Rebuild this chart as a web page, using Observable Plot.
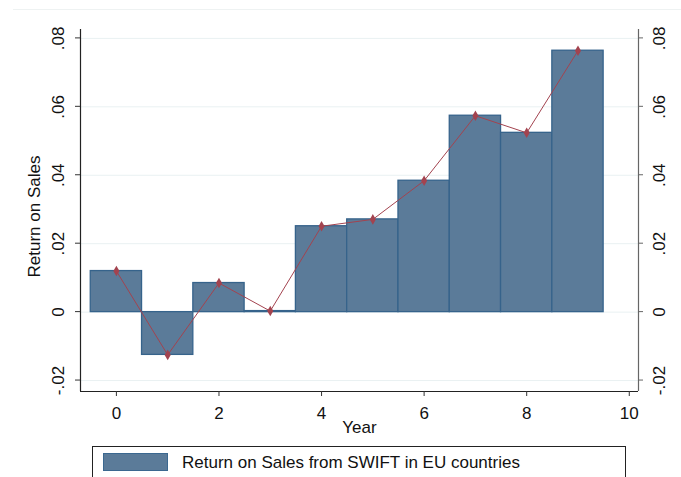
<!DOCTYPE html>
<html>
<head>
<meta charset="utf-8">
<script src="https://cdn.jsdelivr.net/npm/d3@7"></script>
<script src="https://cdn.jsdelivr.net/npm/@observablehq/plot@0.6"></script>
<style>
  html, body { margin: 0; padding: 0; background: #fff; }
  body { width: 681px; height: 477px; overflow: hidden; position: relative; font-family: "Liberation Sans", Arial, sans-serif; }
  #topline { position: absolute; left: 13px; right: 0; top: 9px; height: 0; border-top: 1px solid #eef2f2; }
  #chart { position: absolute; left: 0; top: 0; }
  #legend { position: absolute; left: 92px; top: 446px; width: 534px; height: 50px; border: 1px solid #222; box-sizing: border-box; }
  #legend .swatch { position: absolute; left: 10px; top: 6px; width: 65px; height: 18px; background: #5b7b99; border: 1px solid #3b6890; box-sizing: border-box; }
  #legend .label { position: absolute; left: 89px; top: 7px; font-size: 17px; line-height: 17px; color: #111; white-space: nowrap; }
</style>
</head>
<body>
<div id="topline"></div>
<div id="chart"></div>
<div id="legend"><div class="swatch"></div><div class="label">Return on Sales from SWIFT in EU countries</div></div>
<script>
// Return on sales by year
const years = [0, 1, 2, 3, 4, 5, 6, 7, 8, 9];
const returnOnSales = [0.0120, -0.0125, 0.0085, 0.0003, 0.0251, 0.0271, 0.0384, 0.0574, 0.0524, 0.0764];

// Axis ticks and labels
const xTicks = [0, 2, 4, 6, 8, 10];
const yTicks = [-0.02, 0, 0.02, 0.04, 0.06, 0.08];
const yTickLabels = ["-.02", "0", ".02", ".04", ".06", ".08"];

const rows = years.map((year, i) => ({year, value: returnOnSales[i]}));
const yTickRows = yTicks.map((v, i) => ({v, label: yTickLabels[i]}));

const xDomain = [-0.7, 10.18];
const yDomain = [-0.0232, 0.0826];

const barFill = "#5b7b99";
const barStroke = "#36638b";
const lineColor = "#a3434f";
const fontSize = 17;

const chart = Plot.plot({
  width: 681,
  height: 440,
  marginLeft: 80,
  marginRight: 43,
  marginTop: 29,
  marginBottom: 49,
  style: {fontFamily: "'Liberation Sans', Arial, sans-serif", fontSize: fontSize + "px", color: "#111", background: "transparent"},
  x: {type: "linear", domain: xDomain, axis: null},
  y: {type: "linear", domain: yDomain, axis: null},
  marks: [
    // light gridlines
    Plot.ruleY(yTicks, {stroke: "#e9f1f2", strokeWidth: 1}),
    // bars spanning each year
    Plot.rectY(rows, {x1: d => d.year - 0.5, x2: d => d.year + 0.5, y: "value", fill: barFill, stroke: barStroke, strokeWidth: 1.3}),
    // connecting line with diamond markers
    Plot.line(rows, {x: "year", y: "value", stroke: lineColor, strokeWidth: 1}),
    Plot.dot(rows, {x: "year", y: "value", symbol: "diamond", r: 3.2, fill: lineColor, stroke: "none"}),
    // axis lines
    Plot.ruleX([xDomain[0]], {stroke: "#222", strokeWidth: 1.2}),
    Plot.ruleX([xDomain[1]], {stroke: "#666", strokeWidth: 1.2}),
    Plot.ruleY([yDomain[0]], {stroke: "#222", strokeWidth: 1.2}),
    // x axis
    Plot.axisX(xTicks, {anchor: "bottom", label: null, tickSize: 5, tickPadding: 10, tickFormat: d => String(d), stroke: "#333", fill: "#111", fontSize}),
    // rotated y tick labels on both sides
    Plot.text(yTickRows, {y: "v", text: "label", frameAnchor: "left", dx: -22, rotate: -90, textAnchor: "middle", lineAnchor: "middle", fill: "#111", fontSize}),
    Plot.text(yTickRows, {y: "v", text: "label", frameAnchor: "right", dx: 21, rotate: -90, textAnchor: "middle", lineAnchor: "middle", fill: "#111", fontSize}),
    // axis titles
    Plot.text(["Year"], {frameAnchor: "bottom", dy: 36.5, textAnchor: "middle", lineAnchor: "middle", fill: "#111", fontSize}),
    Plot.text(["Return on Sales"], {frameAnchor: "left", dx: -46, dy: 6, rotate: -90, textAnchor: "middle", lineAnchor: "middle", fill: "#111", fontSize})
  ]
});

// short tick marks on the left and right axes
const svg = d3.select(chart);
const yScale = chart.scale("y");
const xScale = chart.scale("x");
const tickG = svg.append("g").attr("stroke-width", 1);
const xl = xScale.apply(xDomain[0]);
const xr = xScale.apply(xDomain[1]);
for (const v of yTicks) {
  const yy = yScale.apply(v);
  tickG.append("line").attr("x1", xl - 5).attr("x2", xl).attr("y1", yy).attr("y2", yy).attr("stroke", "#333");
  tickG.append("line").attr("x1", xr).attr("x2", xr + 5).attr("y1", yy).attr("y2", yy).attr("stroke", "#666");
}

document.getElementById("chart").appendChild(chart);
</script>
</body>
</html>
